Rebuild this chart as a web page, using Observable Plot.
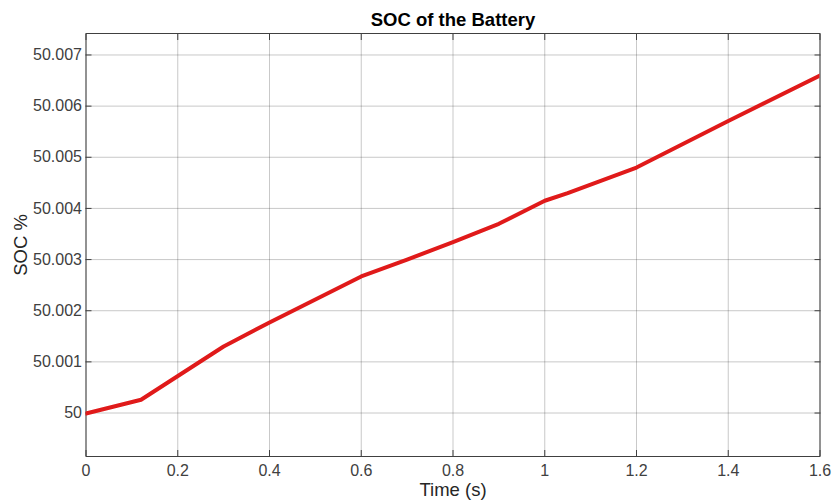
<!DOCTYPE html>
<html>
<head>
<meta charset="utf-8">
<script src="https://cdn.jsdelivr.net/npm/d3@7"></script>
<script src="https://cdn.jsdelivr.net/npm/@observablehq/plot@0.6"></script>
<style>
  html, body { margin: 0; padding: 0; background: #fff; }
  #chart { width: 833px; height: 503px; }
</style>
</head>
<body>
<div id="chart"></div>
<script>
const time = [0, 0.12, 0.3, 0.4, 0.5, 0.6, 0.7, 0.8, 0.9, 1.0, 1.05, 1.2, 1.4, 1.6];
const soc  = [49.99999, 50.00026, 50.0013, 50.00177, 50.00222, 50.00267, 50.003, 50.00334, 50.0037, 50.00415, 50.0043, 50.0048, 50.00571, 50.0066];
const xTicks = [0, 0.2, 0.4, 0.6, 0.8, 1, 1.2, 1.4, 1.6];
const yTicks = [50, 50.001, 50.002, 50.003, 50.004, 50.005, 50.006, 50.007];
const title = "SOC of the Battery";
const xLabel = "Time (s)";
const yLabel = "SOC %";

const data = time.map((t, i) => ({t, v: soc[i]}));
const fmtY = d => d === 50 ? "50" : d.toFixed(3);
const fmtX = d => String(d);
const font = "Liberation Sans, Arial, Helvetica, sans-serif";

const chart = Plot.plot({
  width: 833,
  height: 503,
  marginLeft: 85.5,
  marginRight: 13.5,
  marginTop: 33,
  marginBottom: 47,
  style: {fontFamily: font, fontSize: "16px", color: "#262626", background: "#fff", overflow: "visible"},
  x: {domain: [0, 1.6]},
  y: {domain: [49.99915, 50.00742]},
  marks: [
    Plot.gridX(xTicks, {stroke: "#262626", strokeOpacity: 0.25, strokeWidth: 1}),
    Plot.gridY(yTicks, {stroke: "#262626", strokeOpacity: 0.25, strokeWidth: 1}),
    Plot.axisX(xTicks, {anchor: "bottom", tickSize: -6, tickPadding: 14, tickFormat: fmtX, label: null, fontSize: 16, fill: "#404040", stroke: "#404040"}),
    Plot.axisX(xTicks, {anchor: "top", tickSize: -6, tickFormat: () => "", label: null, stroke: "#404040"}),
    Plot.axisY(yTicks, {anchor: "left", tickSize: -6, tickPadding: 10, tickFormat: fmtY, label: null, fontSize: 16, fill: "#404040", stroke: "#404040"}),
    Plot.axisY(yTicks, {anchor: "right", tickSize: -6, tickFormat: () => "", label: null, stroke: "#404040"}),
    Plot.frame({stroke: "#404040", strokeWidth: 1}),
    Plot.line(data, {x: "t", y: "v", stroke: "#e01a1a", strokeWidth: 4, strokeLinejoin: "round", strokeLinecap: "round", clip: true}),
    Plot.text([title], {frameAnchor: "top", lineAnchor: "middle", dy: -13, text: d => d, fontWeight: "bold", fontSize: 18.5, fill: "#000"}),
    Plot.text([xLabel], {frameAnchor: "bottom", lineAnchor: "middle", dy: 34, text: d => d, fontSize: 18.5, fill: "#262626"}),
    Plot.text([yLabel], {frameAnchor: "left", lineAnchor: "middle", textAnchor: "middle", dx: -65, rotate: -90, text: d => d, fontSize: 18.5, fill: "#262626", style: "letter-spacing: 1px; word-spacing: 12px"})
  ]
});
document.getElementById("chart").appendChild(chart);
</script>
</body>
</html>
